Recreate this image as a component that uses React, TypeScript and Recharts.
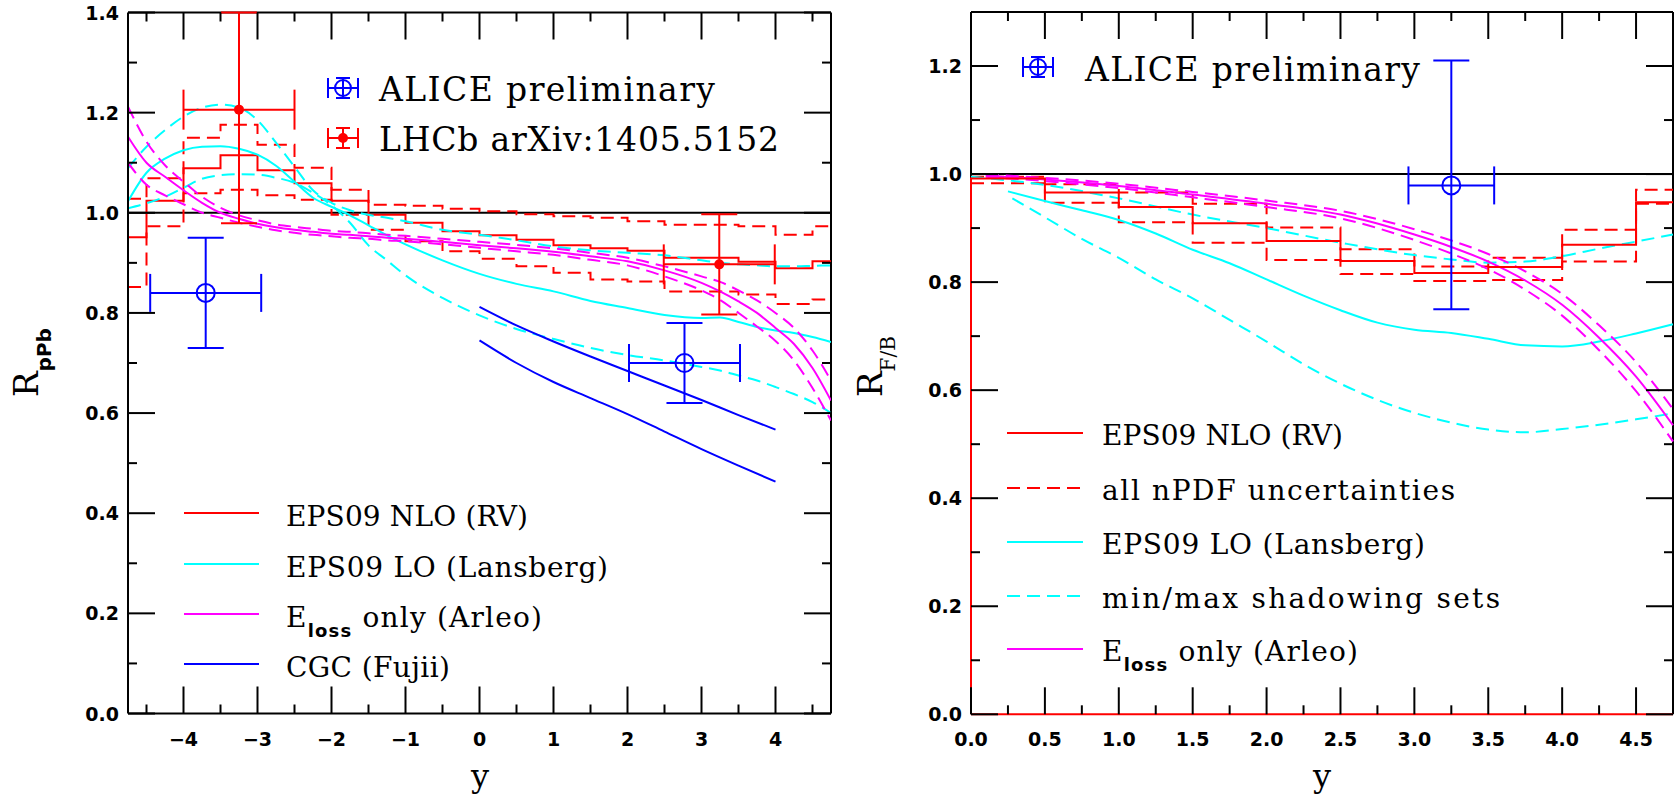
import React from "react";
import { ComposedChart, Line, Scatter, ErrorBar, XAxis, YAxis, ReferenceLine } from "recharts";

// ---------- left panel: R_pPb vs y ----------
const leftBinEdges = [-4.75, -4.5, -4, -3.5, -3, -2.5, -2, -1.5, -1, -0.5, 0, 0.5, 1, 1.5, 2, 2.5, 3, 3.5, 4, 4.5, 4.75];
const leftNlo = [0.951, 1.024, 1.089, 1.115, 1.085, 1.059, 1.024, 0.996, 0.98, 0.963, 0.955, 0.946, 0.935, 0.929, 0.924, 0.91, 0.91, 0.902, 0.889, 0.903];
const leftNloUp = [1.028, 1.069, 1.15, 1.176, 1.136, 1.09, 1.046, 1.016, 1.014, 1.008, 1.003, 0.997, 0.993, 0.99, 0.983, 0.976, 0.976, 0.973, 0.956, 0.973];
const leftNloDown = [0.852, 0.973, 1.039, 1.046, 1.035, 1.026, 0.996, 0.966, 0.943, 0.923, 0.908, 0.893, 0.88, 0.867, 0.863, 0.843, 0.843, 0.837, 0.818, 0.827];

const leftCurveX = [-4.75, -4.5, -4.25, -4, -3.75, -3.5, -3.25, -3, -2.75, -2.5, -2.25, -2, -1.75, -1.5, -1.25, -1, -0.5, 0, 0.5, 1, 1.5, 2, 2.5, 3, 3.25, 3.5, 3.75, 4, 4.25, 4.5, 4.75];
const leftLo = [1.023, 1.08, 1.108, 1.125, 1.132, 1.133, 1.128, 1.116, 1.094, 1.062, 1.03, 1.012, 0.995, 0.975, 0.955, 0.937, 0.905, 0.878, 0.858, 0.843, 0.824, 0.81, 0.796, 0.79, 0.791, 0.782, 0.772, 0.765, 0.76, 0.752, 0.742];
const leftLoMax = [1.089, 1.132, 1.165, 1.192, 1.21, 1.216, 1.21, 1.185, 1.14, 1.092, 1.045, 1.02, 1.005, 0.996, 0.99, 0.983, 0.966, 0.956, 0.945, 0.933, 0.925, 0.92, 0.915, 0.905, 0.9, 0.897, 0.895, 0.893, 0.893, 0.894, 0.895];
const leftLoMin = [1.009, 1.019, 1.032, 1.05, 1.068, 1.075, 1.077, 1.076, 1.07, 1.06, 1.04, 1.015, 0.98, 0.935, 0.905, 0.875, 0.83, 0.795, 0.768, 0.748, 0.73, 0.716, 0.705, 0.692, 0.685, 0.675, 0.665, 0.652, 0.638, 0.622, 0.6];
const leftEloss = [1.152, 1.1, 1.072, 1.045, 1.02, 1.0, 0.988, 0.978, 0.971, 0.966, 0.962, 0.958, 0.956, 0.953, 0.95, 0.948, 0.942, 0.935, 0.929, 0.922, 0.913, 0.903, 0.885, 0.86, 0.843, 0.823, 0.8, 0.77, 0.738, 0.69, 0.625];
const leftElossUp = [1.212, 1.142, 1.095, 1.062, 1.032, 1.01, 0.995, 0.985, 0.977, 0.972, 0.968, 0.964, 0.962, 0.959, 0.956, 0.954, 0.948, 0.942, 0.936, 0.929, 0.92, 0.91, 0.893, 0.873, 0.862, 0.845, 0.825, 0.8, 0.77, 0.725, 0.665];
const leftElossDown = [1.1, 1.056, 1.035, 1.017, 1.0, 0.99, 0.98, 0.972, 0.965, 0.96, 0.956, 0.953, 0.95, 0.948, 0.945, 0.943, 0.937, 0.93, 0.923, 0.916, 0.906, 0.895, 0.873, 0.845, 0.826, 0.8, 0.773, 0.744, 0.705, 0.65, 0.585];

const cgcX = [0, 0.5, 1, 1.5, 2, 2.5, 3, 3.5, 4];
const cgcUpper = [0.812, 0.775, 0.743, 0.713, 0.684, 0.655, 0.626, 0.596, 0.567];
const cgcLower = [0.745, 0.7, 0.662, 0.63, 0.598, 0.563, 0.528, 0.495, 0.463];

const aliceLeft = [
  { x: -3.7, v: 0.84, ex: 0.75, ey: 0.11 },
  { x: 2.77, v: 0.7, ex: 0.75, ey: 0.08 },
];
const lhcbLeft = [
  { x: -3.25, v: 1.206, ex: 0.75, ey: [0.227, 0.194] },
  { x: 3.24, v: 0.897, ex: 0.75, ey: 0.1 },
];

const leftXTicks = [-4.5, -4, -3.5, -3, -2.5, -2, -1.5, -1, -0.5, 0, 0.5, 1, 1.5, 2, 2.5, 3, 3.5, 4, 4.5];
const leftYTicks = [0, 0.1, 0.2, 0.3, 0.4, 0.5, 0.6, 0.7, 0.8, 0.9, 1.0, 1.1, 1.2, 1.3, 1.4];

// ---------- right panel: R_F/B vs y ----------
const rightBinEdges = [0, 0.5, 1, 1.5, 2, 2.5, 3, 3.5, 4, 4.5, 4.75];
const rightNlo = [0.992, 0.966, 0.939, 0.909, 0.876, 0.839, 0.817, 0.828, 0.869, 0.948];
const rightNloUp = [0.995, 0.981, 0.966, 0.945, 0.901, 0.861, 0.829, 0.845, 0.897, 0.971];
const rightNloDown = [0.983, 0.947, 0.911, 0.873, 0.841, 0.815, 0.802, 0.804, 0.838, 0.945];

const rightLoX = [0.25, 0.5, 0.75, 1, 1.25, 1.5, 1.75, 2, 2.25, 2.5, 2.75, 3, 3.25, 3.5, 3.75, 4, 4.25, 4.5, 4.75];
const rightLo = [0.968, 0.95, 0.933, 0.915, 0.89, 0.86, 0.835, 0.805, 0.775, 0.748, 0.725, 0.712, 0.706, 0.695, 0.683, 0.681, 0.69, 0.705, 0.722];
const rightLoMaxX = [0, 0.5, 1, 1.5, 2, 2.5, 3, 3.25, 3.5, 3.75, 4, 4.25, 4.5, 4.75];
const rightLoMax = [0.995, 0.98, 0.955, 0.925, 0.9, 0.873, 0.85, 0.842, 0.836, 0.838, 0.848, 0.862, 0.875, 0.888];
const rightLoMinX = [0.28, 0.5, 0.75, 1, 1.25, 1.5, 1.75, 2, 2.25, 2.5, 2.75, 3, 3.25, 3.5, 3.75, 4, 4.25, 4.5, 4.75];
const rightLoMin = [0.955, 0.92, 0.88, 0.845, 0.805, 0.77, 0.73, 0.69, 0.648, 0.612, 0.582, 0.558, 0.54, 0.527, 0.522, 0.528, 0.536, 0.546, 0.557];

const rightElossX = [0.1, 0.5, 1, 1.5, 2, 2.5, 3, 3.25, 3.5, 3.75, 4, 4.25, 4.5, 4.75];
const rightEloss = [0.997, 0.99, 0.978, 0.962, 0.945, 0.925, 0.888, 0.865, 0.838, 0.803, 0.758, 0.697, 0.625, 0.535];
const rightElossUp = [0.999, 0.993, 0.982, 0.967, 0.951, 0.932, 0.898, 0.877, 0.852, 0.82, 0.778, 0.72, 0.652, 0.565];
const rightElossDown = [0.995, 0.987, 0.974, 0.957, 0.939, 0.918, 0.878, 0.853, 0.824, 0.786, 0.738, 0.674, 0.598, 0.505];

const aliceRight = [{ x: 3.25, v: 0.979, ex: 0.29, ey: [0.229, 0.231] }];

const rightXTicks = [0, 0.25, 0.5, 0.75, 1, 1.25, 1.5, 1.75, 2, 2.25, 2.5, 2.75, 3, 3.25, 3.5, 3.75, 4, 4.25, 4.5];
const rightYTicks = [0, 0.1, 0.2, 0.3, 0.4, 0.5, 0.6, 0.7, 0.8, 0.9, 1.0, 1.1, 1.2];

// ---------- helpers ----------
const RED = "#ff0000";
const CYAN = "#00ffff";
const MAGENTA = "#ff00ff";
const BLUE = "#0000ff";
const DASH = "13 7";

const pts = (xs: number[], vs: number[]) => xs.map((x, i) => ({ x, v: vs[i] }));
const steps = (edges: number[], vals: number[]) => [
  ...vals.map((v, i) => ({ x: edges[i], v })),
  { x: edges[edges.length - 1], v: vals[vals.length - 1] },
];

type Box = { left: number; right: number; top: number; bottom: number };
const MAJOR = 27;
const MINOR = 9;
const AXIS_W = 60; // room given to the y axis
const AXIS_H = 40; // room given to the x axis
const isMajor = (v: number, step: number) => Math.abs(v / step - Math.round(v / step)) < 1e-6;
const tickText = { fontFamily: "'DejaVu Sans', sans-serif", fontWeight: 700, fontSize: 19, fill: "#000" } as const;

const xTick = (box: Box, step: number, fmt: (v: number) => string) => (props: any) => {
  const v = props.payload.value;
  const c = props.x;
  const major = isMajor(v, step);
  const len = major ? MAJOR : MINOR;
  return (
    <g>
      <line x1={c} x2={c} y1={box.bottom} y2={box.bottom - len} stroke="#000" strokeWidth={2} />
      <line x1={c} x2={c} y1={box.top} y2={box.top + len} stroke="#000" strokeWidth={2} />
      {major && (
        <text x={c} y={box.bottom + 32} textAnchor="middle" {...tickText}>
          {fmt(v)}
        </text>
      )}
    </g>
  );
};

const yTick = (box: Box, step: number) => (props: any) => {
  const v = props.payload.value;
  const c = props.y;
  const major = isMajor(v, step);
  const len = major ? MAJOR : MINOR;
  return (
    <g>
      <line x1={box.left} x2={box.left + len} y1={c} y2={c} stroke="#000" strokeWidth={2} />
      <line x1={box.right} x2={box.right - len} y1={c} y2={c} stroke="#000" strokeWidth={2} />
      {major && (
        <text x={box.left - 9} y={c + 7} textAnchor="end" {...tickText}>
          {v.toFixed(1)}
        </text>
      )}
    </g>
  );
};

const openCircle = (p: any) => <circle cx={p.cx} cy={p.cy} r={9} fill="none" stroke={BLUE} strokeWidth={2} />;
const redDot = (p: any) => <circle cx={p.cx} cy={p.cy} r={5} fill={RED} />;

const curve = (key: string, data: any[], color: string, dashed = false, type: any = "monotone") => (
  <Line
    key={key}
    data={data}
    dataKey="v"
    type={type}
    stroke={color}
    strokeWidth={2}
    strokeDasharray={dashed ? DASH : undefined}
    dot={false}
    activeDot={false}
    isAnimationActive={false}
  />
);

const LEFT_BOX: Box = { left: 128, right: 831, top: 12.5, bottom: 713.5 };
const RIGHT_BOX: Box = { left: 121, right: 823, top: 12, bottom: 714.3 };

const marginFor = (b: Box, w: number) => ({
  left: b.left - AXIS_W,
  right: w - b.right,
  top: b.top,
  bottom: 800 - b.bottom - AXIS_H,
});

function LeftPanel() {
  const b = LEFT_BOX;
  return (
    <ComposedChart width={850} height={800} margin={marginFor(b, 850)}>
      <XAxis
        type="number"
        dataKey="x"
        domain={[-4.75, 4.75]}
        allowDataOverflow
        ticks={leftXTicks}
        interval={0}
        height={AXIS_H}
        tickLine={false}
        axisLine={{ stroke: "#000", strokeWidth: 2 }}
        tick={xTick(b, 1, (v) => String(v).replace("-", "\u2212"))}
      />
      <YAxis
        type="number"
        domain={[0, 1.4]}
        allowDataOverflow
        ticks={leftYTicks}
        interval={0}
        width={AXIS_W}
        tickLine={false}
        axisLine={{ stroke: "#000", strokeWidth: 2 }}
        tick={yTick(b, 0.2)}
      />
      <ReferenceLine y={1.4} stroke="#000" strokeWidth={2} />
      <ReferenceLine x={4.75} stroke="#000" strokeWidth={2} />
      <ReferenceLine y={1} stroke="#000" strokeWidth={2} />
      {curve("nloUp", steps(leftBinEdges, leftNloUp), RED, true, "stepAfter")}
      {curve("nloDown", steps(leftBinEdges, leftNloDown), RED, true, "stepAfter")}
      {curve("nlo", steps(leftBinEdges, leftNlo), RED, false, "stepAfter")}
      {curve("loMax", pts(leftCurveX, leftLoMax), CYAN, true)}
      {curve("loMin", pts(leftCurveX, leftLoMin), CYAN, true)}
      {curve("lo", pts(leftCurveX, leftLo), CYAN)}
      {curve("elUp", pts(leftCurveX, leftElossUp), MAGENTA, true)}
      {curve("elDown", pts(leftCurveX, leftElossDown), MAGENTA, true)}
      {curve("el", pts(leftCurveX, leftEloss), MAGENTA)}
      {curve("cgcU", pts(cgcX, cgcUpper), BLUE)}
      {curve("cgcL", pts(cgcX, cgcLower), BLUE)}
      <Scatter data={lhcbLeft} dataKey="v" shape={redDot} isAnimationActive={false}>
        <ErrorBar dataKey="ex" direction="x" width={20} stroke={RED} strokeWidth={2} />
        <ErrorBar dataKey="ey" direction="y" width={18} stroke={RED} strokeWidth={2} />
      </Scatter>
      <Scatter data={aliceLeft} dataKey="v" shape={openCircle} isAnimationActive={false}>
        <ErrorBar dataKey="ex" direction="x" width={19} stroke={BLUE} strokeWidth={2} />
        <ErrorBar dataKey="ey" direction="y" width={18} stroke={BLUE} strokeWidth={2} />
      </Scatter>
    </ComposedChart>
  );
}

function RightPanel() {
  const b = RIGHT_BOX;
  return (
    <ComposedChart width={826} height={800} margin={marginFor(b, 826)}>
      <XAxis
        type="number"
        dataKey="x"
        domain={[0, 4.75]}
        ticks={rightXTicks}
        interval={0}
        height={AXIS_H}
        tickLine={false}
        axisLine={{ stroke: RED, strokeWidth: 2 }}
        tick={xTick(b, 0.5, (v) => v.toFixed(1))}
      />
      <YAxis
        type="number"
        domain={[0, 1.3]}
        ticks={rightYTicks}
        interval={0}
        width={AXIS_W}
        tickLine={false}
        axisLine={false}
        tick={yTick(b, 0.2)}
      />
      {/* frame: the lower part of the left edge is the red histogram itself */}
      <ReferenceLine segment={[{ x: 0, y: rightNlo[0] }, { x: 0, y: 1.3 }]} stroke="#000" strokeWidth={2} />
      <ReferenceLine y={1.3} stroke="#000" strokeWidth={2} />
      <ReferenceLine x={4.75} stroke="#000" strokeWidth={2} />
      <ReferenceLine y={1} stroke="#000" strokeWidth={2} />
      {curve("nloUp", steps(rightBinEdges, rightNloUp), RED, true, "stepAfter")}
      {curve("nloDown", steps(rightBinEdges, rightNloDown), RED, true, "stepAfter")}
      {curve("loMax", pts(rightLoMaxX, rightLoMax), CYAN, true)}
      {curve("loMin", pts(rightLoMinX, rightLoMin), CYAN, true)}
      {curve("lo", pts(rightLoX, rightLo), CYAN)}
      {curve("elUp", pts(rightElossX, rightElossUp), MAGENTA, true)}
      {curve("elDown", pts(rightElossX, rightElossDown), MAGENTA, true)}
      {curve("el", pts(rightElossX, rightEloss), MAGENTA)}
      {curve("nlo", [{ x: 0, v: 0 }, ...steps(rightBinEdges, rightNlo)], RED, false, "stepAfter")}
      <Scatter data={aliceRight} dataKey="v" shape={openCircle} isAnimationActive={false}>
        <ErrorBar dataKey="ex" direction="x" width={19} stroke={BLUE} strokeWidth={2} />
        <ErrorBar dataKey="ey" direction="y" width={18} stroke={BLUE} strokeWidth={2} />
      </Scatter>
    </ComposedChart>
  );
}

// ---------- legends & axis titles (overlay) ----------
const serif = "'DejaVu Serif', serif";

function PointKey({ cx, cy, color, filled }: { cx: number; cy: number; color: string; filled?: boolean }) {
  return (
    <g stroke={color} strokeWidth={2}>
      <line x1={cx - 15} x2={cx + 15} y1={cy} y2={cy} />
      <line x1={cx - 15} x2={cx - 15} y1={cy - 10} y2={cy + 10} />
      <line x1={cx + 15} x2={cx + 15} y1={cy - 10} y2={cy + 10} />
      <line x1={cx} x2={cx} y1={cy - 10} y2={cy + 10} />
      <line x1={cx - 7} x2={cx + 7} y1={cy - 10} y2={cy - 10} />
      <line x1={cx - 7} x2={cx + 7} y1={cy + 10} y2={cy + 10} />
      {filled ? <circle cx={cx} cy={cy} r={5} fill={color} stroke="none" /> : <circle cx={cx} cy={cy} r={8} fill="none" />}
    </g>
  );
}

function Label({ x, y, w, size, children }: { x: number; y: number; w: number; size: number; children: React.ReactNode }) {
  return (
    <text x={x} y={y} textLength={w} lengthAdjust="spacing" fontFamily={serif} fontSize={size} fill="#000">
      {children}
    </text>
  );
}

const Eloss = () => (
  <>
    E
    <tspan dy={10} fontFamily="'DejaVu Sans', sans-serif" fontWeight={700} fontSize={18}>
      loss
    </tspan>
    <tspan dy={-10}> only (Arleo)</tspan>
  </>
);

const leftKeys = [
  { y: 513, color: RED, dashed: false, w: 242, text: "EPS09 NLO (RV)" },
  { y: 564, color: CYAN, dashed: false, w: 322, text: "EPS09 LO (Lansberg)" },
  { y: 614, color: MAGENTA, dashed: false, w: 256, text: "ELOSS" },
  { y: 664, color: BLUE, dashed: false, w: 164, text: "CGC (Fujii)" },
];
const rightKeys = [
  { y: 433, color: RED, dashed: false, w: 241, text: "EPS09 NLO (RV)" },
  { y: 488, color: RED, dashed: true, w: 353, text: "all nPDF uncertainties" },
  { y: 542, color: CYAN, dashed: false, w: 323, text: "EPS09 LO (Lansberg)" },
  { y: 596, color: CYAN, dashed: true, w: 398, text: "min/max shadowing sets" },
  { y: 649, color: MAGENTA, dashed: false, w: 256, text: "ELOSS" },
];

function Overlay() {
  return (
    <svg width={1676} height={800} style={{ position: "absolute", left: 0, top: 0, pointerEvents: "none" }}>
      {/* left panel legends */}
      <PointKey cx={343} cy={88} color={BLUE} />
      <Label x={379} y={101} w={336} size={33}>ALICE preliminary</Label>
      <PointKey cx={343} cy={138} color={RED} filled />
      <Label x={379} y={151} w={400} size={33}>LHCb arXiv:1405.5152</Label>
      {leftKeys.map((k) => (
        <g key={k.y}>
          <line x1={184} x2={259} y1={k.y} y2={k.y} stroke={k.color} strokeWidth={2} strokeDasharray={k.dashed ? DASH : undefined} />
          <Label x={286} y={k.y + 13} w={k.w} size={28}>{k.text === "ELOSS" ? <Eloss /> : k.text}</Label>
        </g>
      ))}
      {/* right panel legends */}
      <PointKey cx={1038} cy={67} color={BLUE} />
      <Label x={1085} y={81} w={335} size={33}>ALICE preliminary</Label>
      {rightKeys.map((k) => (
        <g key={k.y}>
          <line x1={1007} x2={1083} y1={k.y} y2={k.y} stroke={k.color} strokeWidth={2} strokeDasharray={k.dashed ? DASH : undefined} />
          <Label x={1102} y={k.y + 12} w={k.w} size={28}>{k.text === "ELOSS" ? <Eloss /> : k.text}</Label>
        </g>
      ))}
      {/* axis titles */}
      <text x={480} y={787} textAnchor="middle" fontFamily={serif} fontSize={32}>y</text>
      <text x={1322} y={787} textAnchor="middle" fontFamily={serif} fontSize={32}>y</text>
      <text transform="translate(38,397) rotate(-90)" fontFamily={serif} fontSize={34}>
        R
        <tspan dy={13} fontFamily="'DejaVu Sans', sans-serif" fontWeight={700} fontSize={20}>pPb</tspan>
      </text>
      <text transform="translate(882,397) rotate(-90)" fontFamily={serif} fontSize={34}>
        R
        <tspan dy={13} fontSize={20}>F/B</tspan>
      </text>
    </svg>
  );
}

export default function App() {
  return (
    <div style={{ position: "absolute", left: 0, top: 0, width: 1676, height: 800, background: "#fff" }}>
      <div style={{ position: "absolute", left: 0, top: 0 }}>
        <LeftPanel />
      </div>
      <div style={{ position: "absolute", left: 850, top: 0 }}>
        <RightPanel />
      </div>
      <Overlay />
    </div>
  );
}
